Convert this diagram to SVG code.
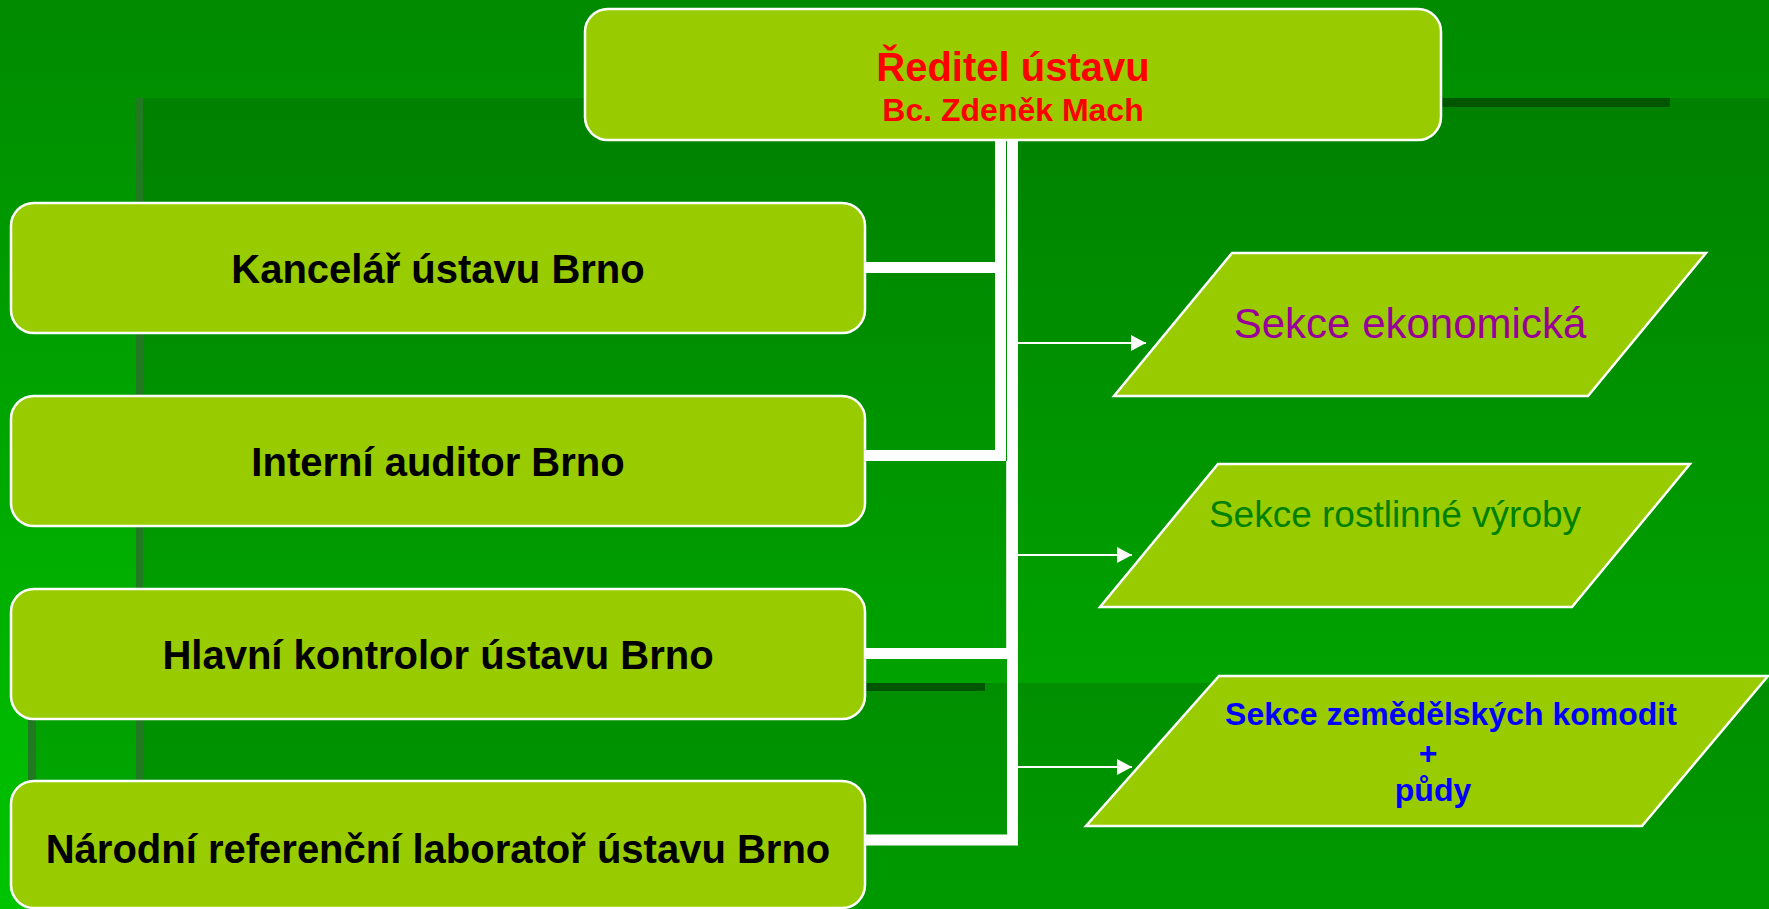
<svg xmlns="http://www.w3.org/2000/svg" width="1769" height="909" viewBox="0 0 1769 909">
<defs>
<linearGradient id="bg" x1="0" y1="0" x2="0" y2="1">
<stop offset="0" stop-color="#008a00"/>
<stop offset="1" stop-color="#00c400"/>
</linearGradient>
<marker id="ah" markerUnits="userSpaceOnUse" markerWidth="16" markerHeight="16" refX="15" refY="8" orient="auto">
<path d="M0,0 L15,8 L0,16 Z" fill="#ffffff"/>
</marker>
</defs>
<style>
.node{fill:#99cc00;stroke:#ffffff;stroke-width:2.5}
.lbl{font-family:"Liberation Sans",Arial,sans-serif;font-weight:bold;font-size:40px;fill:#000000;text-anchor:middle}
.trunk{fill:none;stroke:#ffffff;stroke-width:11;stroke-linejoin:miter}
.thin{fill:none;stroke:#ffffff;stroke-width:2;marker-end:url(#ah)}
</style>
<g id="background">
<rect x="0" y="0" width="1769" height="909" fill="url(#bg)"/>
<rect x="136" y="98" width="1633" height="811" fill="#000000" fill-opacity="0.1"/>
<rect x="30" y="683" width="1739" height="226" fill="#000000" fill-opacity="0.12"/>
<rect x="700" y="98" width="970" height="9" fill="#005500"/>
<rect x="136" y="98" width="7" height="811" fill="#217a21"/>
<rect x="300" y="683" width="685" height="8" fill="#005500"/>
<rect x="28" y="683" width="8" height="226" fill="#217a21"/>
</g>
<g id="connectors">
<path class="trunk" d="M1000.5,140 V267.5 H865"/>
<path class="trunk" d="M1000.5,140 V455.5 H865"/>
<path class="trunk" d="M1012.5,140 V653.5 H865"/>
<path class="trunk" d="M1012.5,140 V840 H865"/>
<path d="M1006.5,461 V648" fill="none" stroke="#cfe6cf" stroke-width="1"/>
<path class="thin" d="M1018,343 H1146"/>
<path class="thin" d="M1018,555 H1132"/>
<path class="thin" d="M1018,767 H1132"/>
</g>
<g id="director">
<rect class="node" x="585" y="9" width="856" height="131" rx="23"/>
<text x="1013" y="81" font-family="Liberation Sans,Arial,sans-serif" font-weight="bold" font-size="40" fill="#ff0000" text-anchor="middle">Ředitel ústavu</text>
<text x="1013" y="121" font-family="Liberation Sans,Arial,sans-serif" font-weight="bold" font-size="32" fill="#ff0000" text-anchor="middle">Bc. Zdeněk Mach</text>
</g>
<g id="kancelar">
<rect class="node" x="11" y="203" width="854" height="130" rx="23"/>
<text class="lbl" x="438" y="283">Kancelář ústavu Brno</text>
</g>
<g id="auditor">
<rect class="node" x="11" y="396" width="854" height="130" rx="23"/>
<text class="lbl" x="438" y="476">Interní auditor Brno</text>
</g>
<g id="kontrolor">
<rect class="node" x="11" y="589" width="854" height="130" rx="23"/>
<text class="lbl" x="438" y="669">Hlavní kontrolor ústavu Brno</text>
</g>
<g id="laborator">
<rect class="node" x="11" y="781" width="854" height="127" rx="23"/>
<text class="lbl" x="438" y="863">Národní referenční laboratoř ústavu Brno</text>
</g>
<g id="ekonomicka">
<polygon class="node" points="1232,253 1706,253 1588,396 1114,396"/>
<text x="1410" y="338" font-family="Liberation Sans,Arial,sans-serif" font-size="42" fill="#990099" text-anchor="middle">Sekce ekonomická</text>
</g>
<g id="rostlinne">
<polygon class="node" points="1218,464 1690,464 1572,607 1100,607"/>
<text x="1395" y="527" font-family="Liberation Sans,Arial,sans-serif" font-size="37" fill="#008000" text-anchor="middle">Sekce rostlinné výroby</text>
</g>
<g id="komodity">
<polygon class="node" points="1219,676 1768,676 1642,826 1086,826"/>
<text x="1451" y="725" font-family="Liberation Sans,Arial,sans-serif" font-weight="bold" font-size="32" fill="#0000ff" text-anchor="middle">Sekce zemědělských komodit</text>
<text x="1428" y="764" font-family="Liberation Sans,Arial,sans-serif" font-weight="bold" font-size="32" fill="#0000ff" text-anchor="middle">+</text>
<text x="1433" y="801" font-family="Liberation Sans,Arial,sans-serif" font-weight="bold" font-size="32" fill="#0000ff" text-anchor="middle">půdy</text>
</g>
</svg>
